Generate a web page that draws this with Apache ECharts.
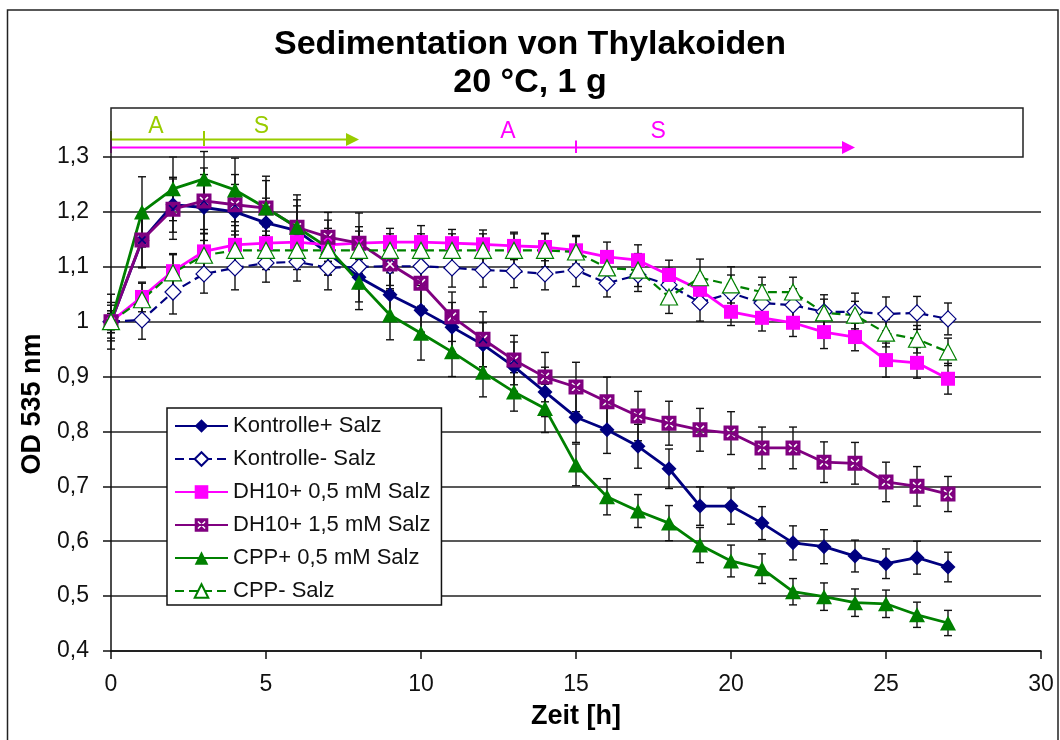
<!DOCTYPE html>
<html>
<head>
<meta charset="utf-8">
<script src="https://cdn.jsdelivr.net/npm/echarts@6/dist/echarts.min.js"></script>
<style>
  html, body { margin: 0; padding: 0; background: #fff; }
  #chart { width: 1060px; height: 740px; }
</style>
</head>
<body>
<div id="chart"></div>
<script>
// Zeitpunkte (h)
const hours = [0, 1, 2, 3, 4, 5, 6, 7, 8, 9, 10, 11, 12, 13, 14, 15, 16, 17, 18, 19, 20, 21, 22, 23, 24, 25, 26, 27];

// OD 535 nm, Mittelwerte
const kontrollePlus = [1.00, 1.148, 1.213, 1.208, 1.20, 1.18, 1.166, 1.125, 1.081, 1.049, 1.021, 0.99, 0.958, 0.918, 0.872, 0.826, 0.803, 0.773, 0.732, 0.664, 0.664, 0.633, 0.597, 0.59, 0.573, 0.559, 0.57, 0.553];
const kontrolleMinus = [1.00, 1.003, 1.054, 1.087, 1.098, 1.107, 1.109, 1.098, 1.10, 1.101, 1.101, 1.098, 1.094, 1.092, 1.087, 1.094, 1.07, 1.085, 1.067, 1.035, 1.052, 1.034, 1.03, 1.018, 1.018, 1.014, 1.016, 1.005];
const dh10Low = [1.00, 1.045, 1.092, 1.128, 1.14, 1.143, 1.145, 1.14, 1.143, 1.145, 1.145, 1.143, 1.141, 1.138, 1.136, 1.13, 1.118, 1.112, 1.085, 1.058, 1.018, 1.007, 0.998, 0.981, 0.972, 0.93, 0.925, 0.896];
const dh10High = [1.00, 1.149, 1.205, 1.22, 1.213, 1.207, 1.172, 1.154, 1.143, 1.105, 1.07, 1.009, 0.968, 0.93, 0.899, 0.881, 0.854, 0.828, 0.815, 0.803, 0.797, 0.77, 0.77, 0.744, 0.742, 0.708, 0.70, 0.686];
const cppPlus = [1.00, 1.20, 1.242, 1.26, 1.24, 1.207, 1.172, 1.135, 1.072, 1.012, 0.979, 0.945, 0.908, 0.872, 0.842, 0.739, 0.681, 0.655, 0.633, 0.593, 0.564, 0.55, 0.508, 0.499, 0.488, 0.486, 0.466, 0.451];
const cppMinus = [1.00, 1.04, 1.089, 1.121, 1.13, 1.13, 1.13, 1.13, 1.13, 1.13, 1.13, 1.13, 1.13, 1.13, 1.13, 1.127, 1.098, 1.094, 1.045, 1.08, 1.067, 1.054, 1.054, 1.016, 1.012, 0.979, 0.968, 0.945];

// Standardabweichungen
const kontrollePlusErr = [0.03, 0.05, 0.05, 0.06, 0.05, 0.045, 0.045, 0.04, 0.045, 0.04, 0.04, 0.045, 0.04, 0.045, 0.045, 0.046, 0.043, 0.04, 0.036, 0.035, 0.033, 0.03, 0.031, 0.031, 0.029, 0.027, 0.03, 0.027];
const kontrolleMinusErr = [0.02, 0.035, 0.04, 0.035, 0.04, 0.035, 0.035, 0.04, 0.04, 0.035, 0.035, 0.035, 0.031, 0.03, 0.029, 0.03, 0.025, 0.03, 0.03, 0.034, 0.033, 0.033, 0.03, 0.031, 0.034, 0.031, 0.03, 0.029];
const dh10LowErr = [0.015, 0.027, 0.03, 0.04, 0.035, 0.03, 0.03, 0.03, 0.03, 0.025, 0.03, 0.025, 0.026, 0.025, 0.025, 0.025, 0.027, 0.028, 0.027, 0.025, 0.025, 0.024, 0.025, 0.03, 0.025, 0.031, 0.028, 0.028];
const dh10HighErr = [0.035, 0.05, 0.055, 0.06, 0.055, 0.05, 0.05, 0.045, 0.055, 0.045, 0.05, 0.045, 0.05, 0.045, 0.045, 0.045, 0.045, 0.045, 0.04, 0.039, 0.039, 0.038, 0.038, 0.037, 0.038, 0.036, 0.036, 0.032];
const cppPlusErr = [0.05, 0.064, 0.058, 0.05, 0.058, 0.058, 0.059, 0.05, 0.05, 0.045, 0.049, 0.045, 0.045, 0.035, 0.044, 0.038, 0.033, 0.03, 0.032, 0.032, 0.029, 0.027, 0.024, 0.025, 0.025, 0.025, 0.023, 0.023];
const cppMinusErr = [0.02, 0.03, 0.035, 0.04, 0.035, 0.035, 0.035, 0.035, 0.035, 0.03, 0.03, 0.03, 0.03, 0.03, 0.03, 0.03, 0.03, 0.03, 0.03, 0.034, 0.033, 0.027, 0.027, 0.025, 0.025, 0.025, 0.025, 0.025];

// Versuchsphasen (h): Beginn, Wechsel A -> S, Ende
const phaseNames = ['A', 'S'];
const phasesShort = [0, 3, 8];
const phasesShortLabelAt = [1.45, 4.85];
const phasesLong = [0, 15, 24];
const phasesLongLabelAt = [12.8, 17.65];

// Achsen
const xTicks = [0, 5, 10, 15, 20, 25, 30];
const yTicks = [0.4, 0.5, 0.6, 0.7, 0.8, 0.9, 1.0, 1.1, 1.2, 1.3];

const titleLines = ['Sedimentation von Thylakoiden', '20 °C, 1 g'];
const seriesNames = ['Kontrolle+ Salz', 'Kontrolle- Salz', 'DH10+ 0,5 mM Salz', 'DH10+ 1,5 mM Salz', 'CPP+ 0,5 mM Salz', 'CPP- Salz'];

const FONT = '"Liberation Sans", Arial, Helvetica, sans-serif';
const NAVY = '#000080', MAGENTA = '#ff00ff', PURPLE = '#800080', GREEN = '#008000', LIME = '#99cc00';

// Quadrat mit ausgespartem Kreuz
const crossedSquare = 'path://M0 0L10 0L10 10L0 10Z' +
  'M2 2.75L4.25 5L2 7.25L2.75 8L5 5.75L7.25 8L8 7.25L5.75 5L8 2.75L7.25 2L5 4.25L2.75 2Z';

function pairs(values) {
  return hours.map((h, i) => [h, values[i]]);
}

function lineSeries(name, values, cfg) {
  return {
    name: name,
    type: 'line',
    data: pairs(values),
    symbol: cfg.symbol,
    symbolSize: cfg.size,
    showSymbol: true,
    showAllSymbol: true,
    lineStyle: { color: cfg.color, width: cfg.dashed ? 2.2 : 2.8, type: cfg.dashed ? [9, 5] : 'solid' },
    itemStyle: cfg.open
      ? { color: '#ffffff', borderColor: cfg.color, borderWidth: 1.2 }
      : { color: cfg.color, borderWidth: 0 },
    emphasis: { disabled: true },
    z: 3
  };
}

const errorSets = [
  [kontrollePlus, kontrollePlusErr],
  [kontrolleMinus, kontrolleMinusErr],
  [dh10Low, dh10LowErr],
  [dh10High, dh10HighErr],
  [cppPlus, cppPlusErr],
  [cppMinus, cppMinusErr]
];
const errorBars = [];
errorSets.forEach(([vals, errs]) => {
  hours.forEach((h, i) => errorBars.push([h, vals[i] - errs[i], vals[i] + errs[i]]));
});

const chart = echarts.init(document.getElementById('chart'), null, { renderer: 'canvas' });

const titleStyle = { fontFamily: FONT, fontSize: 34, fontWeight: 'bold', color: '#000' };

const option = {
  animation: false,
  backgroundColor: '#ffffff',
  title: [
    { text: titleLines[0], left: 'center', top: 28, padding: 0, textStyle: titleStyle },
    { text: titleLines[1], left: 'center', top: 66, padding: 0, textStyle: titleStyle }
  ],
  grid: { left: 111, right: 19, top: 157, bottom: 89, containLabel: false },
  legend: {
    orient: 'vertical',
    left: 167,
    top: 408,
    itemWidth: 53,
    itemHeight: 17,
    itemGap: 11,
    padding: [7, 11, 3, 7],
    backgroundColor: '#ffffff',
    borderColor: '#111',
    borderWidth: 1.5,
    selectedMode: false,
    data: seriesNames,
    textStyle: { fontFamily: FONT, fontSize: 22, color: '#111', lineHeight: 22 }
  },
  xAxis: {
    type: 'value',
    min: xTicks[0],
    max: xTicks[xTicks.length - 1],
    interval: xTicks[1] - xTicks[0],
    name: 'Zeit [h]',
    nameLocation: 'middle',
    nameGap: 52,
    nameTextStyle: { fontFamily: FONT, fontSize: 27, fontWeight: 'bold', color: '#000' },
    axisLine: { show: true, lineStyle: { color: '#111', width: 1.5 } },
    axisTick: { show: true, inside: false, length: 8, lineStyle: { color: '#111', width: 1.5 } },
    axisLabel: { fontFamily: FONT, fontSize: 23, color: '#111', margin: 22 },
    splitLine: { show: false }
  },
  yAxis: {
    type: 'value',
    min: yTicks[0],
    max: yTicks[yTicks.length - 1],
    interval: 0.1,
    name: 'OD 535 nm',
    nameLocation: 'middle',
    nameRotate: 90,
    nameGap: 58,
    nameTextStyle: { fontFamily: FONT, fontSize: 27, fontWeight: 'bold', color: '#000' },
    axisLine: { show: true, lineStyle: { color: '#111', width: 1.5 } },
    axisTick: { show: true, inside: false, length: 8, lineStyle: { color: '#111', width: 1.5 } },
    axisLabel: {
      fontFamily: FONT, fontSize: 23, color: '#111', margin: 22,
      formatter: v => {
        const r = Math.round(v * 10) / 10;
        return (r === 1 ? '1' : r.toFixed(1)).replace('.', ',');
      }
    },
    splitLine: { show: true, showMaxLine: false, lineStyle: { color: '#222', width: 1.5 } }
  },
  series: [
    {
      type: 'custom',
      name: 'Fehlerbalken',
      silent: true,
      clip: false,
      z: 1,
      data: errorBars,
      encode: { x: 0, y: [1, 2] },
      renderItem: function (params, api) {
        const x = api.value(0);
        const top = api.coord([x, api.value(2)]);
        const bot = api.coord([x, api.value(1)]);
        const w = 4;
        const st = { stroke: '#111', lineWidth: 1.4 };
        return {
          type: 'group',
          children: [
            { type: 'line', shape: { x1: top[0], y1: top[1], x2: bot[0], y2: bot[1] }, style: st },
            { type: 'line', shape: { x1: top[0] - w, y1: top[1], x2: top[0] + w, y2: top[1] }, style: st },
            { type: 'line', shape: { x1: bot[0] - w, y1: bot[1], x2: bot[0] + w, y2: bot[1] }, style: st }
          ]
        };
      }
    },
    lineSeries(seriesNames[0], kontrollePlus, { color: NAVY, symbol: 'diamond', size: 15 }),
    lineSeries(seriesNames[1], kontrolleMinus, { color: NAVY, symbol: 'diamond', size: 16, open: true, dashed: true }),
    lineSeries(seriesNames[2], dh10Low, { color: MAGENTA, symbol: 'rect', size: 14 }),
    lineSeries(seriesNames[3], dh10High, { color: PURPLE, symbol: crossedSquare, size: 15 }),
    lineSeries(seriesNames[4], cppPlus, { color: GREEN, symbol: 'triangle', size: [16, 15] }),
    lineSeries(seriesNames[5], cppMinus, { color: GREEN, symbol: 'triangle', size: [17, 16], open: true, dashed: true })
  ]
};

chart.setOption(option);

// Phasenleiste über dem Diagramm und Rahmen
function px(t, v) { return chart.convertToPixel({ gridIndex: 0 }, [t, v]); }

const yTop = yTicks[yTicks.length - 1];
const origin = px(0, yTop);
const boxTop = 108, boxRight = 1023;

function phaseBar(bounds, labelsAt, color, yLine, yTickTop, yTickBottom, yText) {
  const xs = bounds.map(b => px(b, yTop)[0]);
  const st = { stroke: color, lineWidth: 2 };
  const els = [
    { type: 'line', shape: { x1: xs[0], y1: yLine, x2: xs[2] - 10, y2: yLine }, style: st },
    { type: 'line', shape: { x1: xs[0], y1: yTickTop, x2: xs[0], y2: yTickBottom }, style: st },
    { type: 'line', shape: { x1: xs[1], y1: yTickTop, x2: xs[1], y2: yTickBottom }, style: st },
    { type: 'polygon', shape: { points: [[xs[2], yLine], [xs[2] - 13, yLine - 6.5], [xs[2] - 13, yLine + 6.5]] }, style: { fill: color } }
  ];
  labelsAt.forEach((t, i) => {
    els.push({
      type: 'text',
      x: px(t, yTop)[0],
      y: yText,
      style: { text: phaseNames[i], fill: color, font: '23px ' + FONT, align: 'center', verticalAlign: 'middle' }
    });
  });
  return els;
}

const graphics = [
  { type: 'rect', shape: { x: 7.5, y: 10, width: 1050.5, height: 745 }, style: { fill: 'none', stroke: '#222', lineWidth: 1.5 }, z: 100 },
  { type: 'rect', shape: { x: origin[0], y: boxTop, width: boxRight - origin[0], height: origin[1] - boxTop }, style: { fill: 'none', stroke: '#222', lineWidth: 1.5 }, z: 100 }
]
  .concat(phaseBar(phasesShort, phasesShortLabelAt, LIME, 139.5, 131, 146, 127))
  .concat(phaseBar(phasesLong, phasesLongLabelAt, MAGENTA, 147.5, 140.5, 153, 132));

chart.setOption({ graphic: graphics.map(g => Object.assign({ silent: true }, g)) });
</script>
</body>
</html>
